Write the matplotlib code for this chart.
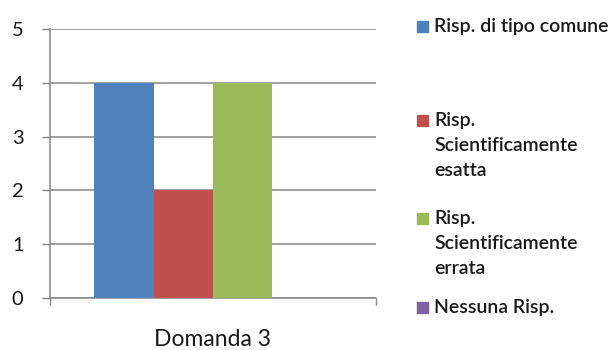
import matplotlib
matplotlib.use('Agg')
import matplotlib.pyplot as plt
from matplotlib.patches import Rectangle

# Answers to question 3, one bar per answer type
category = "Domanda 3"
series_labels = [
    "Risp. di tipo comune",
    "Risp.\nScientificamente\nesatta",
    "Risp.\nScientificamente\nerrata",
    "Nessuna Risp.",
]
series_values = [4, 2, 4, 0]
series_colors = ["#4F81BD", "#C0504D", "#9BBB59", "#8064A2"]
y_ticks = [0, 1, 2, 3, 4, 5]

W, H = 613, 350
plt.rcParams['font.family'] = ['Lato', 'DejaVu Sans']

fig = plt.figure(figsize=(W / 100, H / 100), dpi=100)
ax = fig.add_axes([50 / W, 1 - 298 / H, 326 / W, 269 / H])

grid_col = "#868686"
n = len(series_values)
bar_w = 1 / (n + 1.5)
for i, (v, c) in enumerate(zip(series_values, series_colors)):
    ax.bar((i - (n - 1) / 2) * bar_w, v, width=bar_w, color=c, zorder=3)

ax.set_xlim(-0.5, 0.5)
ax.set_ylim(0, 5)
ax.set_yticks(y_ticks)
ax.set_yticklabels([str(t) for t in y_ticks], fontsize=14.5, color="#1a1a1a")
ax.yaxis.grid(True, color=grid_col, linewidth=1.1, zorder=0)
ax.tick_params(axis='y', length=6, width=1, color=grid_col, pad=13)

ax.set_xticks([0])
ax.set_xticklabels([category], fontsize=16.5, color="#1a1a1a")
ax.set_xticks([-0.5, 0.5], minor=True)
ax.tick_params(axis='x', which='major', length=0, pad=22)
ax.tick_params(axis='x', which='minor', length=5, width=1, color=grid_col)

for s in ['top', 'right']:
    ax.spines[s].set_visible(False)
for s in ['left', 'bottom']:
    ax.spines[s].set_color(grid_col)
    ax.spines[s].set_linewidth(1.1)

# legend drawn by hand, one line of text at a time
entry_tops = [21, 115, 213, 302]
line_step = 25
cap_h = 11
for label, color, top in zip(series_labels, series_colors, entry_tops):
    fig.patches.append(Rectangle((417 / W, 1 - (top + 11) / H), 11 / W, 11 / H,
                                 transform=fig.transFigure, color=color))
    for k, line in enumerate(label.split("\n")):
        base = top + cap_h + k * line_step
        fig.text(434 / W, 1 - base / H, line, fontsize=14, color="#1a1a1a",
                 fontweight='semibold', va='baseline', ha='left')

fig.savefig("out.png", dpi=100)
